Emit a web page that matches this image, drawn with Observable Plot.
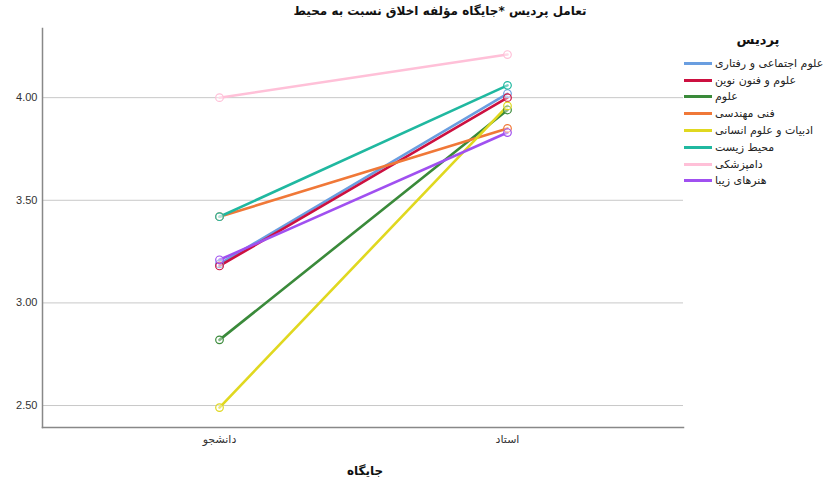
<!DOCTYPE html>
<html>
<head>
<meta charset="utf-8">
<script src="https://cdn.jsdelivr.net/npm/d3@7"></script>
<script src="https://cdn.jsdelivr.net/npm/@observablehq/plot@0.6"></script>
<style>
  body { margin: 0; background: #fff; }
  #wrap { position: relative; width: 831px; height: 484px; overflow: hidden; font-family: "DejaVu Sans", sans-serif; }
  #chart { position: absolute; left: 0; top: 0; }
  #title { position: absolute; left: 260px; width: 360px; top: 4px; text-align: center; font-weight: bold; font-size: 12px; color: #111; direction: rtl; }
  #xlabel { position: absolute; left: 315px; width: 100px; top: 464px; text-align: center; font-weight: bold; font-size: 12px; color: #111; }
  #legend { position: absolute; left: 684px; top: 32px; width: 147px; }
  #legend .lt { font-weight: bold; font-size: 13px; color: #111; text-align: center; width: 148px; margin-bottom: 8px; }
  #legend .row { display: flex; align-items: center; height: 16.8px; }
  #legend .sw { width: 28px; height: 3px; margin-right: 3px; flex: none; }
  #legend .tx { font-size: 11px; color: #222; white-space: nowrap; }
</style>
</head>
<body>
<div id="wrap">
  <div id="chart"></div>
  <div id="title">تعامل پردیس *جایگاه مؤلفه اخلاق نسبت به محیط</div>
  <div id="xlabel">جایگاه</div>
  <div id="legend"></div>
</div>
<script>
const categories = ["دانشجو", "استاد"];
const groups = [
  "علوم اجتماعی و رفتاری",
  "علوم و فنون نوین",
  "علوم",
  "فنی مهندسی",
  "ادبیات و علوم انسانی",
  "محیط زیست",
  "دامپزشکی",
  "هنرهای زیبا"
];
const studentValues = [3.19, 3.18, 2.82, 3.42, 2.49, 3.42, 4.00, 3.21];
const teacherValues = [4.02, 4.00, 3.94, 3.85, 3.96, 4.06, 4.21, 3.83];
const colors = ["#6a9ee0", "#cc1040", "#3a8a3a", "#f07838", "#e0d820", "#20b8a0", "#ffc0d8", "#a050f0"];
const yTicks = [2.5, 3.0, 3.5, 4.0];

const rows = [];
groups.forEach((g, i) => {
  rows.push({group: g, cat: categories[0], value: studentValues[i]});
  rows.push({group: g, cat: categories[1], value: teacherValues[i]});
});

const chart = Plot.plot({
  width: 831,
  height: 484,
  marginLeft: 42,
  marginRight: 148,
  marginTop: 28,
  marginBottom: 57,
  style: {fontFamily: "Liberation Sans, Arial, sans-serif", fontSize: "11px", color: "#333", background: "#fff"},
  x: {type: "point", domain: categories, padding: 0.61, label: null, tickSize: 0, tickPadding: 8},
  y: {domain: [2.393, 4.337], ticks: yTicks, tickFormat: d3.format(".2f"), label: null, tickSize: 0, tickPadding: 5},
  color: {domain: groups, range: colors},
  marks: [
    Plot.gridY(yTicks, {stroke: "#c8c8c8", strokeOpacity: 1, strokeWidth: 1}),
    Plot.frame({anchor: "left", stroke: "#888", strokeWidth: 1.5}),
    Plot.frame({anchor: "bottom", stroke: "#888", strokeWidth: 1.5}),
    Plot.line(rows, {x: "cat", y: "value", z: "group", stroke: "group", strokeWidth: 2.6}),
    Plot.dot(rows, {x: "cat", y: "value", stroke: "group", fill: "white", fillOpacity: 0.4, r: 3.8, strokeWidth: 1.2})
  ]
});
chart.querySelectorAll('[aria-label="x-axis tick label"] text, [aria-label="x-axis tick label"]').forEach(el => el.setAttribute("font-family", "DejaVu Sans, sans-serif"));
document.getElementById("chart").appendChild(chart);

const leg = document.getElementById("legend");
const lt = document.createElement("div");
lt.className = "lt";
lt.textContent = "پردیس";
leg.appendChild(lt);
groups.forEach((g, i) => {
  const r = document.createElement("div");
  r.className = "row";
  const sw = document.createElement("div");
  sw.className = "sw";
  sw.style.background = colors[i];
  const tx = document.createElement("div");
  tx.className = "tx";
  tx.textContent = g;
  r.appendChild(sw);
  r.appendChild(tx);
  leg.appendChild(r);
});
</script>
</body>
</html>
